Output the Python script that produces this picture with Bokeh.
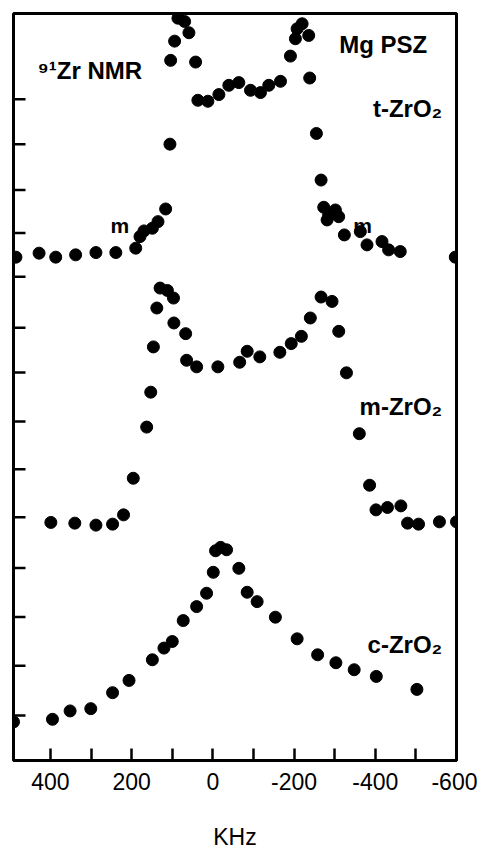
from bokeh.plotting import figure
from bokeh.models import Range1d, FixedTicker, Label
from bokeh.embed import file_html
from bokeh.resources import INLINE

# ---- data (frequency offset in kHz, stacked intensity in arbitrary units) ----
t_khz = [485, 428, 387, 338, 288, 239, 190, 179.5, 169.7, 149, 135.2, 116.3,
         105.7, 104, 94.2, 86, 69.6, 59, 42.5, 36.9, 12.3, -14.8, -39.3, -63.9,
         -92.7, -117.3, -137.7, -166.5, -191, -203.3, -207.5, -219.8, -236,
         -238.5, -255, -266.5, -273, -281.3, -285.2, -301.7, -309.8, -323.8,
         -363.2, -379.6, -416.5, -432.8, -461.5, -597]
t_int = [504.7, 508.7, 504.7, 507, 509.3, 509.3, 513.7, 525.3, 531, 533.7, 540.3, 553,
         618, 702, 721.3, 744.3, 741, 729.7, 700.3, 662, 661, 667.7, 677, 679.7,
         672, 669.7, 677, 681, 706.3, 723.7, 733.7, 738.7, 727,
         684.3, 628.7, 582, 554.7, 542, 547, 552, 545.3, 527,
         530.3, 517, 520.3, 512, 510.3, 504.7]

m_khz = [399, 340, 288, 247, 220, 196, 163, 153, 146.5, 138, 130, 112, 97, 96,
         67, 64.7, 40, -12.3, -66, -84.5, -115.6, -165, -193, -218, -240,
         -266.5, -293.5, -310, -329, -360.7, -386, -401.7, -430, -463, -479.5,
         -506.5, -558, -600]
m_int = [238.7, 238, 236, 237, 246.3, 283, 334.3, 369.3, 414.7, 453.7, 473.7, 471.3, 463.7, 438.7,
         428, 401.3, 394.7, 394.7, 399.3, 410.3, 404.7, 409.3, 418, 425.3, 443.7,
         464.7, 460.3, 430.3, 388.7, 327.7, 276, 251.3, 253.7, 255.3, 238,
         237, 239.3, 239.3]

c_khz = [491, 395, 351.6, 300.7, 247, 206.5, 149, 120.5, 100, 73, 40, 15.5, -1,
         -6.6, -19, -33.7, -64, -84.5, -109, -154, -207.5, -258, -303, -348,
         -402.5, -502.5]
c_int = [38.7, 41.3, 49.7, 52, 68, 80.3, 101, 112.7, 119.3, 140.3, 154.3, 167.7, 188.7,
         210.3, 213.7, 211.3, 192.7, 168.7, 159.3, 143.7, 122, 106, 98, 91,
         84.3, 71.3]

x_major_ticks = [400, 200, 0, -200, -400, -600]
x_tick_labels = ["400", "200", "0", "-200", "-400", "-600"]
x_minor_ticks = [300, 100, -100, -300, -500]
y_ticks = [45, 95, 144, 193, 244, 292, 340, 389, 434, 485, 529, 572, 618, 663]

FONT = "Liberation Sans"
X_START, X_END = 491, -600
FRAME_W = 443

p = figure(width=477, height=852, output_backend="svg", toolbar_location=None,
           x_range=Range1d(X_START, X_END), y_range=Range1d(0, 749),
           y_axis_location=None,
           min_border_left=13, min_border_right=21, min_border_top=13,
           min_border_bottom=90)
p.grid.visible = False
p.outline_line_color = "black"
p.outline_line_width = 3
p.background_fill_color = "white"
p.border_fill_color = "white"

xa = p.xaxis[0]
xa.ticker = FixedTicker(ticks=x_major_ticks, minor_ticks=x_minor_ticks)
xa.major_label_overrides = dict(zip(x_major_ticks, x_tick_labels))
xa.major_tick_in = 12
xa.major_tick_out = 0
xa.minor_tick_in = 12
xa.minor_tick_out = 0
xa.major_tick_line_width = 2.5
xa.minor_tick_line_width = 2.5
xa.axis_line_width = 3
xa.major_label_text_font = FONT
xa.major_label_text_font_size = "23px"
xa.major_label_text_color = "black"
xa.major_label_standoff = 12
xa.axis_label = "KHz"
xa.axis_label_text_font = FONT
xa.axis_label_text_font_size = "23px"
xa.axis_label_text_font_style = "normal"
xa.axis_label_text_color = "black"
xa.axis_label_standoff = 31

# inward tick marks on the left edge (12 px long)
tick_len = 12 * (X_START - X_END) / FRAME_W
p.segment(x0=[X_START] * len(y_ticks), x1=[X_START - tick_len] * len(y_ticks),
          y0=y_ticks, y1=y_ticks, line_color="black", line_width=2.5)

for xs, ys in ((t_khz, t_int), (m_khz, m_int), (c_khz, c_int)):
    p.scatter(xs, ys, size=12, color="black")

def lab(x, y, text, align="left", size="24px"):
    p.add_layout(Label(x=x, y=y, text=text, text_font=FONT, text_font_size=size,
                       text_font_style="bold", text_align=align,
                       text_baseline="alphabetic", text_color="black"))

lab(432, 692, "\u2079\u00b9Zr NMR")
lab(-528, 718, "Mg PSZ", align="right")
lab(-565, 654, "t-ZrO\u2082", align="right")
lab(252, 536, "m", size="21px")
lab(-346, 536, "m", size="21px")
lab(-565, 355, "m-ZrO\u2082", align="right")
lab(-565, 116, "c-ZrO\u2082", align="right")

open("out.html", "w").write(file_html(p, INLINE))
